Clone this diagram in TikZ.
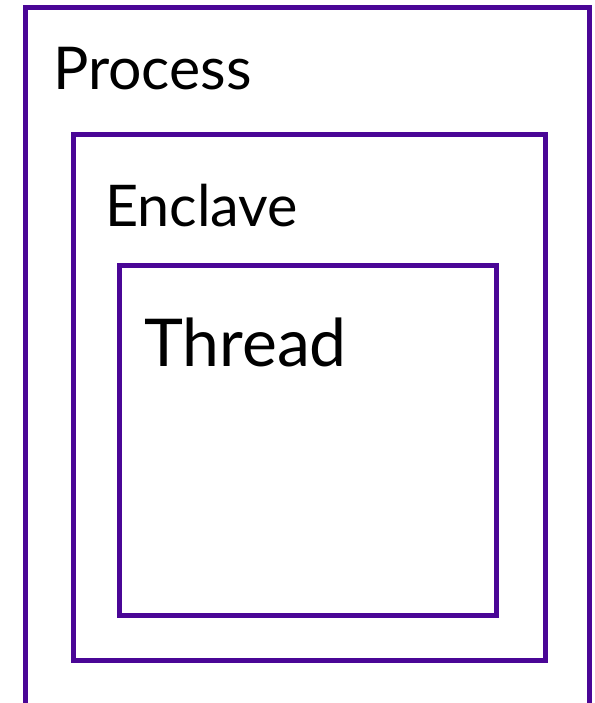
\documentclass[tikz,border=0pt]{standalone}
\usepackage{fontspec}
\setmainfont{Lato}
\definecolor{frame}{RGB}{74,6,150}
\begin{document}
\begin{tikzpicture}[x=1pt,y=-1pt,
  box/.style={draw=frame, line width=5pt, inner sep=0pt},
  label/.style={anchor=base west, inner sep=0pt, text=black}]
  \useasboundingbox (0,0) rectangle (594,703);
  \clip (0,0) rectangle (594,703);
  % nested containers: process > enclave > thread
  \node[box, minimum width=564pt, minimum height=730pt] (process) at (307.5,372.5) {};
  \node[box, minimum width=471.5pt, minimum height=525.5pt] (enclave) at (309.25,397.25) {};
  \node[box, minimum width=377pt, minimum height=350pt] (thread) at (308,440.5) {};
  % captions
  \node[label, font=\fontsize{59}{62}\selectfont] (ptext) at (53,90) {Process};
  \node[label, font=\fontsize{57.5}{60}\selectfont] (etext) at (105,226) {Enclave};
  \node[label, font=\fontsize{66}{70}\selectfont] (ttext) at (144,366) {Thread};
\end{tikzpicture}
\end{document}
